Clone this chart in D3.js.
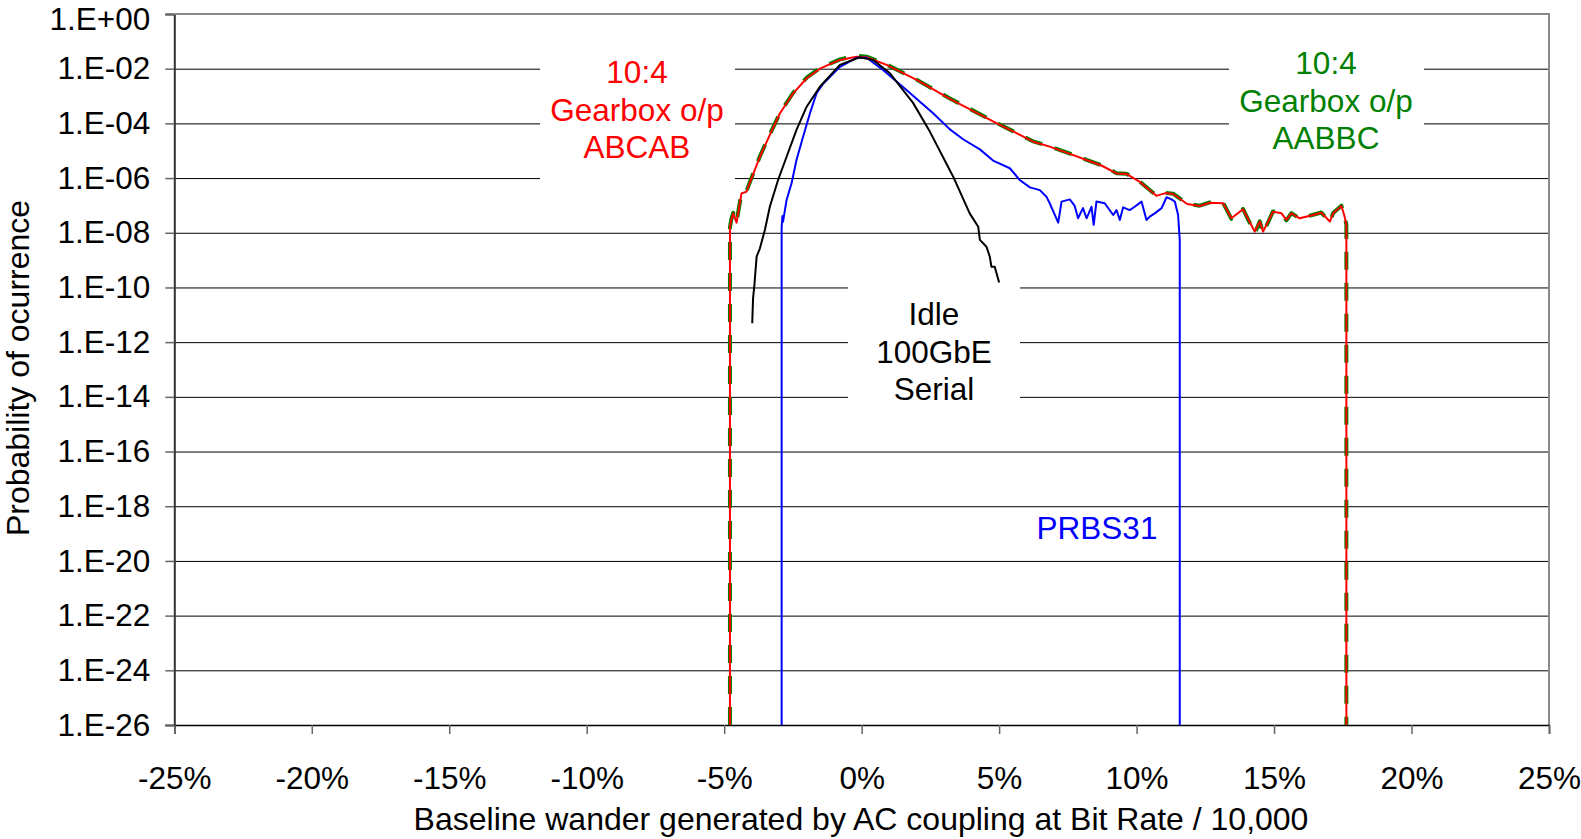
<!DOCTYPE html>
<html>
<head>
<meta charset="utf-8">
<script src="https://cdn.jsdelivr.net/npm/d3@7"></script>
<style>
  body { margin: 0; background: #fff; }
  svg text { font-family: Arial, "Liberation Sans", sans-serif; }
</style>
</head>
<body>
<div class="chart"></div>
<script>
(function () {

  // axis ticks
  var xTicks = [-25, -20, -15, -10, -5, 0, 5, 10, 15, 20, 25];
  var yTicks = [0, -2, -4, -6, -8, -10, -12, -14, -16, -18, -20, -22, -24, -26];

  // 10:4 gearbox ABCAB (red) - x in %, y as log10(probability)
  var abcabX = [-4.79, -4.79, -4.74, -4.67, -4.55, -4.37, -4.19, -4.01, -3.70, -3.34, -2.97, -2.49, -2.00, -1.52, -0.79, -0.19, 0.18, 0.91, 2.00, 3.21, 4.85, 6.24, 6.84, 7.45, 8.18, 8.72, 9.27, 9.63, 10.12, 10.72, 11.05, 11.33, 11.84, 12.30, 12.66, 13.15, 13.45, 13.87, 14.30, 14.48, 14.60, 14.96, 15.27, 15.45, 15.63, 15.93, 16.42, 16.72, 17.03, 17.15, 17.45, 17.55, 17.63, 17.63];
  var abcabY = [-26, -7.8, -7.53, -7.29, -7.63, -6.56, -6.50, -6.02, -5.22, -4.42, -3.63, -2.90, -2.35, -2.00, -1.68, -1.56, -1.58, -1.86, -2.41, -3.10, -3.96, -4.67, -4.85, -5.07, -5.34, -5.54, -5.83, -5.85, -6.14, -6.65, -6.55, -6.58, -6.95, -7.02, -6.90, -6.92, -7.47, -7.14, -7.96, -7.59, -7.96, -7.23, -7.29, -7.53, -7.29, -7.47, -7.35, -7.27, -7.59, -7.29, -7.02, -7.35, -7.7, -26];

  // 10:4 gearbox AABBC (green dashed)
  var aabbcX = [-4.79, -4.79, -4.74, -4.67, -4.55, -4.37, -4.19, -4.01, -3.70, -3.34, -2.97, -2.49, -2.00, -1.52, -0.79, -0.19, 0.18, 0.91, 2.00, 3.21, 4.85, 6.24, 6.84, 7.45, 8.18, 8.72, 9.27, 9.63, 10.12, 10.72, 11.05, 11.33, 11.84, 12.30, 12.66, 13.15, 13.45, 13.87, 14.30, 14.48, 14.60, 14.96, 15.27, 15.45, 15.63, 15.93, 16.42, 16.72, 17.03, 17.15, 17.45, 17.55, 17.63, 17.63];
  var aabbcY = [-26, -7.8, -7.50, -7.27, -7.60, -6.54, -6.48, -6.00, -5.20, -4.40, -3.61, -2.88, -2.33, -1.98, -1.66, -1.53, -1.56, -1.85, -2.40, -3.09, -3.95, -4.66, -4.84, -5.06, -5.33, -5.53, -5.82, -5.84, -6.13, -6.64, -6.54, -6.57, -6.94, -7.01, -6.89, -6.91, -7.49, -7.13, -8.02, -7.58, -8.02, -7.22, -7.28, -7.55, -7.28, -7.48, -7.34, -7.26, -7.61, -7.28, -7.01, -7.36, -7.7, -26];

  // PRBS31 (blue)
  var prbsX = [-2.91, -2.91, -2.88, -2.86, -2.73, -2.55, -2.37, -2.13, -1.88, -1.64, -1.40, -0.79, -0.19, 0.18, 0.78, 1.63, 2.60, 3.21, 3.69, 4.30, 4.78, 5.39, 5.75, 6.12, 6.48, 6.72, 6.84, 7.15, 7.27, 7.57, 7.75, 7.87, 8.05, 8.18, 8.36, 8.44, 8.54, 8.84, 9.15, 9.27, 9.39, 9.51, 9.75, 9.93, 10.18, 10.36, 10.48, 10.66, 10.91, 11.09, 11.27, 11.39, 11.51, 11.57, 11.57];
  var prbsY = [-26, -7.78, -7.39, -7.6, -6.80, -6.19, -5.34, -4.49, -3.63, -2.90, -2.55, -1.93, -1.60, -1.60, -2.05, -2.78, -3.63, -4.22, -4.58, -4.95, -5.36, -5.64, -6.07, -6.34, -6.44, -6.68, -6.92, -7.63, -6.86, -6.78, -7.02, -7.47, -7.10, -7.47, -7.05, -7.71, -6.86, -6.92, -7.35, -7.17, -7.53, -7.07, -7.17, -7.05, -6.86, -7.53, -7.41, -7.29, -7.10, -6.70, -6.78, -6.86, -7.35, -8.26, -26];

  // Idle 100GbE serial (black)
  var idleX = [-3.98, -3.95, -3.90, -3.82, -3.70, -3.52, -3.34, -3.04, -2.73, -2.37, -2.00, -1.52, -0.79, -0.07, 0.42, 1.03, 1.87, 2.48, 3.33, 3.93, 4.24, 4.30, 4.54, 4.66, 4.72, 4.84, 5.00];
  var idleY = [-11.31, -10.40, -9.9, -8.87, -8.57, -7.90, -7.05, -6.07, -5.22, -4.24, -3.39, -2.66, -1.86, -1.58, -1.68, -2.17, -3.25, -4.30, -5.95, -7.29, -7.78, -8.26, -8.51, -8.87, -9.24, -9.24, -9.82];

  var width = 1581, height = 839;
  var left = 174.3, right = 1549, top = 14, bottom = 725;

  var svg = d3.select(".chart")
    .append("svg")
    .attr("width", width)
    .attr("height", height);

  var x = d3.scaleLinear().domain([-25, 25]).range([left, right]);
  var y = d3.scaleLog().domain([1e-26, 1]).range([bottom, top]);

  function expLabel(e) {
    var a = Math.abs(e);
    return "1.E" + (e >= 0 ? "+" : "-") + (a < 10 ? "0" : "") + a;
  }

  // gridlines
  svg.append("g")
    .attr("transform", "translate(" + left + ",0)")
    .call(d3.axisLeft(y)
      .tickValues(yTicks.map(function (e) { return Math.pow(10, e); }))
      .tickSize(-(right - left))
      .tickFormat(""))
    .call(function (g) {
      g.select(".domain").remove();
      g.selectAll("line").attr("stroke", "#000").attr("stroke-width", 1);
    });

  // y axis
  svg.append("g")
    .attr("transform", "translate(" + left + ",0)")
    .call(d3.axisLeft(y)
      .tickValues(yTicks.map(function (e) { return Math.pow(10, e); }))
      .tickSize(9)
      .tickPadding(15)
      .tickFormat(function (d) { return expLabel(Math.round(Math.log10(d))); }))
    .call(function (g) {
      g.select(".domain").attr("stroke", "#333").attr("stroke-width", 2);
      g.selectAll(".tick line").attr("stroke", "#666").attr("stroke-width", 1.5);
      g.selectAll("text").attr("font-size", 31.5).attr("fill", "#000");
      // keep the top label inside the picture
      g.selectAll("text").filter(function (d) { return d === 1; }).attr("dy", "0.48em");
    });

  // frame top and right
  svg.append("path")
    .attr("d", "M" + left + "," + top + "H" + right + "V" + bottom)
    .attr("fill", "none")
    .attr("stroke", "#8a8a8a")
    .attr("stroke-width", 2);

  // x axis
  svg.append("g")
    .attr("transform", "translate(0," + bottom + ")")
    .call(d3.axisBottom(x)
      .tickValues(xTicks)
      .tickSize(9)
      .tickPadding(33)
      .tickFormat(function (d) { return d + "%"; }))
    .call(function (g) {
      g.select(".domain").attr("stroke", "#000").attr("stroke-width", 1.5);
      g.selectAll(".tick line").attr("stroke", "#666").attr("stroke-width", 1.5);
      g.selectAll("text").attr("font-size", 31.5).attr("fill", "#000");
    });

  // text boxes (white background hides grid)
  var boxes = [
    { x0: 540, x1: 735, y0: 36, y1: 192, cx: 637, lines: ["10:4", "Gearbox o/p", "ABCAB"], color: "#ff0000", base: 83 },
    { x0: 1229, x1: 1424, y0: 30, y1: 160, cx: 1326, lines: ["10:4", "Gearbox o/p", "AABBC"], color: "#008000", base: 74 },
    { x0: 848, x1: 1020, y0: 285, y1: 412, cx: 934, lines: ["Idle", "100GbE", "Serial"], color: "#000000", base: 325 },
    { x0: 1030, x1: 1165, y0: 512, y1: 552, cx: 1097, lines: ["PRBS31"], color: "#0000ff", base: 539 }
  ];

  boxes.forEach(function (b) {
    svg.append("rect")
      .attr("x", b.x0).attr("y", b.y0)
      .attr("width", b.x1 - b.x0).attr("height", b.y1 - b.y0)
      .attr("fill", "#fff");
  });

  function toPoints(xs, ys) {
    return xs.map(function (v, i) { return [v, ys[i]]; });
  }

  var line = d3.line()
    .x(function (d) { return x(d[0]); })
    .y(function (d) { return y(Math.pow(10, d[1])); });

  var series = [
    { pts: toPoints(aabbcX, aabbcY), color: "#008000", w: 4, dash: "18,13" },
    { pts: toPoints(abcabX, abcabY), color: "#ff0000", w: 2, dash: null },
    { pts: toPoints(prbsX, prbsY), color: "#0000ff", w: 2, dash: null },
    { pts: toPoints(idleX, idleY), color: "#000000", w: 2, dash: null }
  ];

  series.forEach(function (s) {
    svg.append("path")
      .datum(s.pts)
      .attr("d", line)
      .attr("fill", "none")
      .attr("stroke", s.color)
      .attr("stroke-width", s.w)
      .attr("stroke-linejoin", "round")
      .attr("stroke-dasharray", s.dash);
  });

  // labels
  boxes.forEach(function (b) {
    b.lines.forEach(function (t, i) {
      svg.append("text")
        .attr("x", b.cx)
        .attr("y", b.base + i * 37.5)
        .attr("text-anchor", "middle")
        .attr("font-size", 31.5)
        .attr("fill", b.color)
        .text(t);
    });
  });

  // axis titles
  svg.append("text")
    .attr("x", 861)
    .attr("y", 830)
    .attr("text-anchor", "middle")
    .attr("font-size", 32)
    .text("Baseline wander generated by AC coupling at Bit Rate / 10,000");

  svg.append("text")
    .attr("transform", "translate(29,368) rotate(-90)")
    .attr("text-anchor", "middle")
    .attr("font-size", 32)
    .text("Probability of ocurrence");

})();
</script>
</body>
</html>
